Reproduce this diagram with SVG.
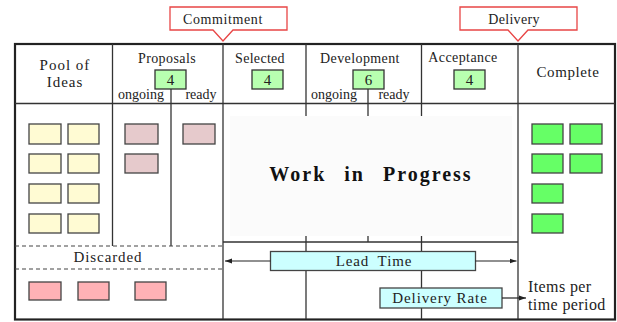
<svg xmlns="http://www.w3.org/2000/svg" width="617" height="322" viewBox="0 0 617 322">
<style>
text{font-family:"Liberation Serif","Times New Roman",serif;fill:#222;font-size:14px;text-anchor:middle}
text.s15{font-size:15px}
text.num{font-size:15px}
text.st{text-anchor:start;font-size:16px;letter-spacing:0.4px}
text.lbl{font-size:15px;letter-spacing:0.9px}
text.wip{font-size:20px;font-weight:bold;fill:#111;letter-spacing:2px;word-spacing:11px}
.ln{stroke:#333;stroke-width:1.3;fill:none}
.dash{stroke:#444;stroke-width:1.2;stroke-dasharray:4 3;fill:none}
.y{fill:#FFFBD3;stroke:#444;stroke-width:1.3}
.p{fill:#E6CACC;stroke:#444;stroke-width:1.3}
.r{fill:#FFB2B6;stroke:#444;stroke-width:1.3}
.g{fill:#66FF66;stroke:#444;stroke-width:1.3}
.cnt{fill:#B8FFB0;stroke:#333;stroke-width:1.3}
.cy{fill:#CCFFFF;stroke:#444;stroke-width:1.3}
.call{fill:#fff;stroke:#E84545;stroke-width:1.3}
.arr{stroke:#222;stroke-width:1.2;fill:none;marker-end:url(#ah)}
</style>
<defs>
<marker id="ah" markerWidth="8" markerHeight="6" refX="7" refY="3" orient="auto" markerUnits="userSpaceOnUse">
<path d="M0,0.5 L7,3 L0,5.5 Z" fill="#222"/>
</marker>
</defs>
<rect width="617" height="322" fill="#fff"/>
<g id="board">
<rect x="15" y="44" width="600" height="275.5" fill="#fff" stroke="#222" stroke-width="2.2"/>
<line class="ln" x1="15" y1="103.5" x2="615" y2="103.5"/>
<line class="ln" x1="112.5" y1="44" x2="112.5" y2="246"/>
<line class="ln" x1="223" y1="44" x2="223" y2="319"/>
<line class="ln" x1="306" y1="44" x2="306" y2="319"/>
<line class="ln" x1="421.5" y1="44" x2="421.5" y2="319"/>
<line class="ln" x1="518" y1="44" x2="518" y2="319"/>
<line class="ln" x1="171" y1="89" x2="171" y2="246"/>
<line class="ln" x1="368" y1="89" x2="368" y2="242"/>
<line class="ln" x1="223" y1="242" x2="518" y2="242"/>
<line class="dash" x1="15" y1="246" x2="223" y2="246"/>
<line class="dash" x1="15" y1="269" x2="223" y2="269"/>
<rect x="230" y="116" width="282" height="120" fill="#FBFBFB"/>
</g>
<g id="commitment">
<path class="call" d="M170,7 H287 V30 H233 L223,41 L213,30 H170 Z"/>
<text x="223" y="23.5" letter-spacing="0.6">Commitment</text>
</g>
<g id="delivery">
<path class="call" d="M460,7 H577 V30 H528 L518,41 L508,30 H460 Z"/>
<text x="514" y="23.5" letter-spacing="0.3">Delivery</text>
</g>
<g id="pool">
<text class="s15" x="65" y="70" letter-spacing="1">Pool of</text>
<text class="s15" x="65" y="86.5" letter-spacing="1">Ideas</text>
<rect class="y" x="29" y="124" width="32" height="20"/><rect class="y" x="68" y="124" width="31" height="20"/>
<rect class="y" x="29" y="154" width="32" height="19"/><rect class="y" x="68" y="154" width="31" height="19"/>
<rect class="y" x="29" y="184" width="32" height="19"/><rect class="y" x="68" y="184" width="31" height="19"/>
<rect class="y" x="29" y="214" width="32" height="19"/><rect class="y" x="68" y="214" width="31" height="19"/>
</g>
<g id="proposals">
<text x="167" y="63" letter-spacing="0.4">Proposals</text>
<rect class="cnt" x="155" y="70" width="31" height="19"/>
<text class="num" x="170.5" y="84.5">4</text>
<text x="141" y="99">ongoing</text>
<text x="201" y="99">ready</text>
<rect class="p" x="125" y="124" width="33" height="20"/>
<rect class="p" x="125" y="154" width="33" height="19"/>
<rect class="p" x="183" y="124" width="32" height="20"/>
</g>
<g id="selected">
<text x="260" y="63" letter-spacing="0.3">Selected</text>
<rect class="cnt" x="252" y="70" width="31" height="19"/>
<text class="num" x="267.5" y="84.5">4</text>
</g>
<g id="development">
<text x="360" y="63" letter-spacing="0.4">Development</text>
<rect class="cnt" x="353" y="70" width="31" height="19"/>
<text class="num" x="368.5" y="84.5">6</text>
<text x="334" y="99">ongoing</text>
<text x="394" y="99">ready</text>
</g>
<g id="acceptance">
<text x="463" y="62" letter-spacing="0.4">Acceptance</text>
<rect class="cnt" x="454" y="70" width="31" height="19"/>
<text class="num" x="469.5" y="84.5">4</text>
</g>
<g id="complete">
<text class="s15" x="568" y="77" letter-spacing="0.6">Complete</text>
<rect class="g" x="532" y="124" width="31" height="20"/><rect class="g" x="570" y="124" width="32" height="20"/>
<rect class="g" x="532" y="154" width="31" height="19"/><rect class="g" x="570" y="154" width="32" height="19"/>
<rect class="g" x="532" y="184" width="31" height="19"/>
<rect class="g" x="532" y="214" width="31" height="19"/>
</g>
<g id="wip">
<text class="wip" x="371" y="181">Work in Progress</text>
</g>
<g id="discarded">
<text class="lbl" x="108" y="262">Discarded</text>
<rect class="r" x="29" y="282" width="32" height="18"/>
<rect class="r" x="78" y="282" width="31" height="18"/>
<rect class="r" x="135" y="282" width="31" height="18"/>
</g>
<g id="leadtime">
<rect class="cy" x="270.5" y="251.5" width="205" height="19"/>
<text class="lbl" x="374" y="266" word-spacing="4">Lead Time</text>
</g>
<g id="deliveryrate">
<rect class="cy" x="380" y="288" width="122" height="20"/>
<text class="lbl" x="440" y="303">Delivery Rate</text>
</g>
<g id="itemsper">
<text class="st" x="528" y="292">Items per</text>
<text class="st" x="528" y="310">time period</text>
</g>
<g id="connectors">
<line class="arr" x1="270.5" y1="261" x2="225" y2="261"/>
<line class="arr" x1="475.5" y1="261" x2="516.5" y2="261"/>
<line class="arr" x1="502" y1="298" x2="526" y2="298"/>
</g>
</svg>
